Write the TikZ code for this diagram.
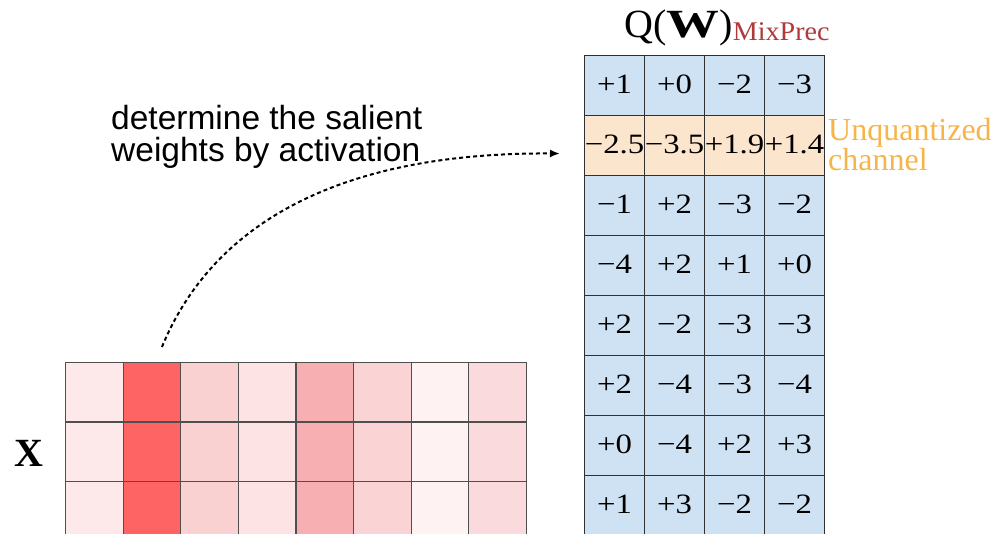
\documentclass[tikz,border=0pt]{standalone}
\usepackage{fontspec}
\setmainfont{Liberation Serif}
\newfontfamily\sansf{Liberation Sans}
\usetikzlibrary{arrows.meta}
\definecolor{wblue}{HTML}{CFE2F3}
\definecolor{worange}{HTML}{FCE5CD}
\definecolor{uqtext}{HTML}{F5B54A}
\definecolor{mixred}{HTML}{B03A3A}
\definecolor{gridc}{HTML}{303030}
\definecolor{xa}{HTML}{FDE9E9}
\definecolor{xb}{HTML}{FE6464}
\definecolor{xc}{HTML}{FAD1D1}
\definecolor{xd}{HTML}{FDE3E3}
\definecolor{xe}{HTML}{F8AFB2}
\definecolor{xf}{HTML}{FAD3D5}
\definecolor{xg}{HTML}{FEF3F2}
\definecolor{xh}{HTML}{FBDADD}
\tikzset{
  wcell/.style={draw=gridc, line width=1.1pt, minimum width=60pt, minimum height=60pt, inner sep=0pt, anchor=north west, font=\fontsize{28}{28}\selectfont, text depth=2pt},
  xcell/.style={draw=gridc!85, line width=1.1pt, minimum width=57.6pt, minimum height=59.5pt, inner sep=0pt, anchor=north west},
  lbl/.style={anchor=base west, inner sep=0pt},
  conn/.style={line width=2pt, dash pattern=on 4pt off 3pt, -{Latex[length=10pt,width=8pt]}},
}
\begin{document}
\begin{tikzpicture}[x=1pt,y=-1pt]
\useasboundingbox (0,0) rectangle (1007,534);
\clip (0,0) rectangle (1007,534);
\fill[white] (0,0) rectangle (1007,534);
% X grid
\foreach \cl [count=\c] in {xa,xb,xc,xd,xe,xf,xg,xh}{
  \foreach \r in {1,2,3}{
    \node[xcell, fill=\cl] (x-\r-\c) at ({65+57.6*(\c-1)},{362+59.5*(\r-1)}) {};
  }
}
\node[lbl, font=\fontsize{40}{40}\selectfont\bfseries] (xl) at (14,467) {X};
% W grid
\foreach \r/\fc/\vals in {1/wblue/{+1,+0,−2,−3},2/worange/{−2.5,−3.5,+1.9,+1.4},3/wblue/{−1,+2,−3,−2},4/wblue/{−4,+2,+1,+0},5/wblue/{+2,−2,−3,−3},6/wblue/{+2,−4,−3,−4},7/wblue/{+0,−4,+2,+3},8/wblue/{+1,+3,−2,−2}}{
  \foreach \v [count=\c] in \vals {
    \node[wcell, fill=\fc] (w-\r-\c) at ({584+60*(\c-1)},{55+60*(\r-1)}) {\scalebox{1.17}[1]{\v}};
  }
}
% title
\node[lbl, font=\fontsize{40}{40}\selectfont] (qw) at (624,38) {Q(\scalebox{1.32}[1]{\textbf{W}})};
\node[lbl, text=mixred, font=\fontsize{27}{27}\selectfont] (mp) at ([yshift=-3pt]qw.base east) {\scalebox{1.04}[1]{MixPrec}};
% unquantized label
\node[lbl, text=uqtext, font=\fontsize{32}{32}\selectfont] (u1) at (828,141) {Unquantized};
\node[lbl, text=uqtext, font=\fontsize{32}{32}\selectfont] (u2) at (828,171) {channel};
% annotation
\node[lbl, font=\sansf\fontsize{33.5}{33.5}\selectfont] (t1) at (111,130) {determine the salient};
\node[lbl, font=\sansf\fontsize{33.5}{33.5}\selectfont] (t2) at (111,162) {weights by activation};
% arrow
\coordinate (as) at ([xshift=10pt,yshift=15pt]x-1-2.north);
\coordinate (ae) at ([xshift=-24pt,yshift=-8pt]w-2-1.west);
\draw[conn] (as) .. controls (210,230) and (330,152) .. (ae);
\end{tikzpicture}
\end{document}
